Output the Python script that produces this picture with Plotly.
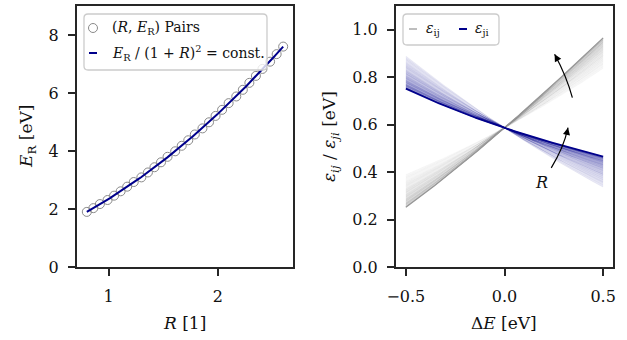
import numpy as np
import plotly.graph_objects as go

# (R, E_R) pairs shown as open circles
R_pairs = [0.80, 0.86, 0.92, 0.99, 1.05, 1.11, 1.17, 1.23, 1.30, 1.36,
           1.42, 1.48, 1.54, 1.61, 1.67, 1.73, 1.79, 1.86, 1.92, 1.98,
           2.04, 2.10, 2.17, 2.23, 2.29, 2.35, 2.41, 2.48, 2.54, 2.60]
E_R_pairs = [1.90, 2.03, 2.17, 2.31, 2.46, 2.61, 2.77, 2.93, 3.09, 3.26,
             3.44, 3.61, 3.80, 3.99, 4.18, 4.37, 4.57, 4.78, 4.99, 5.21,
             5.42, 5.65, 5.88, 6.11, 6.35, 6.59, 6.83, 7.08, 7.34, 7.60]
const_value = 0.5864          # E_R / (1 + R)^2
dE_limits = (-0.5, 0.5)       # driving force range [eV]

x_ticks_left = [1, 2]
y_ticks_left = [0, 2, 4, 6, 8]
x_ticks_right = [-0.5, 0.0, 0.5]
x_ticktext_right = ["\u22120.5", "0.0", "0.5"]
y_ticks_right = [0.0, 0.2, 0.4, 0.6, 0.8, 1.0]
y_ticktext_right = ["0.0", "0.2", "0.4", "0.6", "0.8", "1.0"]

FONT = "DejaVu Serif"
INK = "#262626"
GRAY = (128, 128, 128)
BLUE = (0, 0, 139)
W, H = 627, 340


def px(x):
    return x / W


def py(y):
    return 1 - y / H


def barriers(R, E_R, dE):
    """Crossing point of two parabolas with curvature ratio R**2."""
    a = E_R
    b = E_R / R ** 2
    root = np.sqrt(b ** 2 + (a - b) * (b + dE))
    x = (b + dE) / (b + root)
    eps_ij = a * x ** 2
    return eps_ij, eps_ij - dE


fig = go.Figure()

# left panel: pairs and the constant-barrier curve
fig.add_trace(go.Scatter(
    x=R_pairs, y=E_R_pairs, mode="markers", xaxis="x", yaxis="y",
    marker=dict(symbol="circle-open", size=9, color="#8a8a8a", line=dict(width=1)),
    showlegend=False))
R_line = np.linspace(min(R_pairs), max(R_pairs), 200)
fig.add_trace(go.Scatter(
    x=R_line, y=const_value * (1 + R_line) ** 2, mode="lines", xaxis="x", yaxis="y",
    line=dict(color="darkblue", width=2), showlegend=False))

# right panel: barrier families, fading towards small R
dE = np.linspace(dE_limits[0], dE_limits[1], 201)
n = len(R_pairs)
curves = [barriers(R, E_R, dE) for R, E_R in zip(R_pairs, E_R_pairs)]
for idx, (rgb, a0, a1) in enumerate([(GRAY, 0.07, 0.40), (BLUE, 0.10, 0.50)]):
    for k in range(n):
        y = curves[k][idx]
        a = a0 + (a1 - a0) * k / (n - 1)
        col = f"rgba({rgb[0]},{rgb[1]},{rgb[2]},{{:.3f}})"
        fig.add_trace(go.Scatter(
            x=dE, y=y, mode="lines", xaxis="x2", yaxis="y2", showlegend=False,
            fill=None if k == 0 else "tonexty", fillcolor=col.format(a * 0.8),
            line=dict(color=col.format(a * 0.6), width=0.6)))
    # highest R drawn on top in full colour
    fig.add_trace(go.Scatter(
        x=dE, y=curves[-1][idx], mode="lines", xaxis="x2", yaxis="y2", showlegend=False,
        line=dict(color="rgb(150,150,150)" if idx == 0 else "darkblue",
                  width=1.2 if idx == 0 else 1.8)))

axis_common = dict(showline=True, mirror=True, linewidth=2, linecolor=INK,
                   ticks="outside", ticklen=7, tickwidth=1.5, tickcolor=INK,
                   showgrid=False, zeroline=False, automargin=False,
                   tickfont=dict(family=FONT, size=16, color="#111"))

fig.update_layout(
    width=W, height=H, margin=dict(l=0, r=0, t=0, b=0),
    paper_bgcolor="white", plot_bgcolor="white",
    font=dict(family=FONT, size=16, color="#111"),
    xaxis=dict(domain=[px(77), px(293)], range=[0.71, 2.69], tickvals=x_ticks_left,
               anchor="y", ticklabelstandoff=7, **axis_common),
    yaxis=dict(domain=[py(267), py(6)], range=[0, 9], tickvals=y_ticks_left,
               anchor="x", ticklabelstandoff=6, **axis_common),
    xaxis2=dict(domain=[px(396), px(613)], range=[-0.55, 0.55], tickvals=x_ticks_right,
                ticktext=x_ticktext_right, anchor="y2", ticklabelstandoff=7, **axis_common),
    yaxis2=dict(domain=[py(267), py(6)], range=[0, 1.1], tickvals=y_ticks_right,
                ticktext=y_ticktext_right, anchor="x2", ticklabelstandoff=6, **axis_common),
)

ann = []
# axis titles
ann.append(dict(x=px(184), y=py(323), text="<i>R</i> [1]"))
ann.append(dict(x=px(27), y=py(137), text="<i>E</i><sub>R</sub> [eV]", textangle=-90))
ann.append(dict(x=px(504), y=py(323), text="\u0394<i>E</i> [eV]"))
ann.append(dict(x=px(330), y=py(137),
                text="<i>\u03b5<sub>ij</sub></i> / <i>\u03b5<sub>ji</sub></i> [eV]",
                textangle=-90))
for a in ann:
    a.update(xref="paper", yref="paper", showarrow=False, xanchor="center",
             yanchor="middle", font=dict(family=FONT, size=17, color="#111"))

# legends drawn as shapes and text
shapes = []


def rounded_box(x0, y0, x1, y1, r=4):
    X0, X1 = px(x0), px(x1)
    Y0, Y1 = py(y0), py(y1)
    rx, ry = r / W, r / H
    path = (f"M{X0 + rx},{Y0} L{X1 - rx},{Y0} Q{X1},{Y0} {X1},{Y0 - ry} "
            f"L{X1},{Y1 + ry} Q{X1},{Y1} {X1 - rx},{Y1} L{X0 + rx},{Y1} "
            f"Q{X0},{Y1} {X0},{Y1 + ry} L{X0},{Y0 - ry} Q{X0},{Y0} {X0 + rx},{Y0} Z")
    return dict(type="path", path=path, xref="paper", yref="paper",
                fillcolor="rgba(255,255,255,0.8)", line=dict(color="#cccccc", width=1.3))


shapes.append(rounded_box(84, 14, 267, 70))
shapes.append(dict(type="circle", xref="paper", yref="paper",
                   x0=px(88.5), x1=px(97.5), y0=py(32.5), y1=py(23.5),
                   line=dict(color="#8a8a8a", width=1)))
shapes.append(dict(type="line", xref="paper", yref="paper",
                   x0=px(89), x1=px(97), y0=py(53), y1=py(53),
                   line=dict(color="darkblue", width=2)))
ann.append(dict(x=px(110), y=py(28), text="(<i>R</i>, <i>E</i><sub>R</sub>) Pairs"))
ann.append(dict(x=px(110), y=py(53),
                text="<i>E</i><sub>R</sub> / (1 + <i>R</i>)<sup>2</sup> = const."))

shapes.append(rounded_box(403, 14, 499, 45))
shapes.append(dict(type="line", xref="paper", yref="paper",
                   x0=px(409), x1=px(417), y0=py(29), y1=py(29),
                   line=dict(color="rgb(169,169,169)", width=1.5)))
shapes.append(dict(type="line", xref="paper", yref="paper",
                   x0=px(459), x1=px(467), y0=py(29), y1=py(29),
                   line=dict(color="darkblue", width=2)))
ann.append(dict(x=px(424), y=py(29), text="<i>\u03b5</i><sub>ij</sub>"))
ann.append(dict(x=px(473), y=py(29), text="<i>\u03b5</i><sub>ji</sub>"))
for a in ann[4:]:
    a.update(xref="paper", yref="paper", showarrow=False, xanchor="left",
             yanchor="middle", font=dict(family=FONT, size=14, color="#111"))

# curved arrows indicating increasing R
arrows = [((0.344, 0.714), (0.3145, 0.805), (0.254, 0.897)),
          ((0.237, 0.418), (0.300, 0.502), (0.322, 0.587))]
for (x0, y0), (cx, cy), (x1, y1) in arrows:
    shapes.append(dict(type="path", xref="x2", yref="y2",
                       path=f"M{x0},{y0} Q{cx},{cy} {x1},{y1}",
                       line=dict(color="black", width=1.2)))
    t = 0.25
    ann.append(dict(x=x1, y=y1, ax=x1 + t * (cx - x1), ay=y1 + t * (cy - y1),
                    xref="x2", yref="y2", axref="x2", ayref="y2", text="",
                    showarrow=True, arrowhead=2, arrowsize=1.2, arrowwidth=1.2,
                    arrowcolor="black"))
ann.append(dict(x=0.186, y=0.355, xref="x2", yref="y2", text="<i>R</i>",
                showarrow=False, font=dict(family=FONT, size=16, color="#111")))

fig.update_layout(annotations=ann, shapes=shapes)
fig.write_html("out.html")
